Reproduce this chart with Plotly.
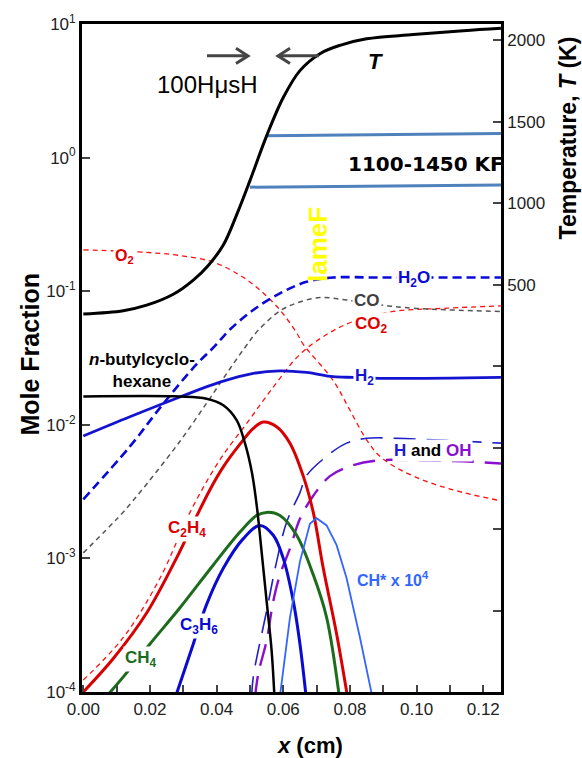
import plotly.graph_objects as go

# ---------------- data ----------------
T_x = [0.0, 0.012, 0.019, 0.027, 0.033, 0.0375, 0.042, 0.046, 0.050, 0.055, 0.060, 0.065, 0.071, 0.077, 0.085, 0.099, 0.114, 0.1253]
T_K = [322, 342, 376, 443, 530, 620, 745, 930, 1140, 1415, 1650, 1815, 1919, 1970, 2010, 2036, 2060, 2075]

band_up_x = [0.0551, 0.1253]
band_up_T = [1415, 1429]
band_lo_x = [0.0500, 0.1253]
band_lo_T = [1100, 1113]

O2_x = [0.0, 0.019, 0.029, 0.039, 0.047, 0.053, 0.059, 0.064, 0.066, 0.075, 0.080, 0.085, 0.089, 0.095, 0.104, 0.114, 0.1253]
O2_y = [0.204, 0.195, 0.185, 0.165, 0.1315, 0.1019, 0.0724, 0.0488, 0.0400, 0.0214, 0.01285, 0.00771, 0.00581, 0.00462, 0.00369, 0.00311, 0.00270]

H2O_x = [0.0, 0.014, 0.024, 0.034, 0.039, 0.044, 0.051, 0.059, 0.067, 0.075, 0.089, 0.1253]
H2O_y = [0.00277, 0.00689, 0.01439, 0.02844, 0.03776, 0.05164, 0.0724, 0.0964, 0.1175, 0.1265, 0.1265, 0.1265]

CO_x = [0.0, 0.008, 0.0119, 0.0191, 0.029, 0.0371, 0.0431, 0.0485, 0.0524, 0.059, 0.0641, 0.071, 0.079, 0.089, 0.099, 0.1253]
CO_y = [0.00110, 0.001746, 0.00221, 0.003626, 0.00753, 0.01464, 0.02438, 0.03793, 0.0507, 0.0713, 0.0817, 0.0897, 0.0859, 0.0789, 0.0746, 0.0705]

CO2_x = [0.0, 0.012, 0.023, 0.032, 0.041, 0.049, 0.057, 0.065, 0.073, 0.081, 0.093, 0.109, 0.1253]
CO2_y = [0.000123, 0.000256, 0.000711, 0.00221, 0.00548, 0.01023, 0.01914, 0.0337, 0.0474, 0.0594, 0.0705, 0.0746, 0.0776]

H2_x = [0.0, 0.014, 0.029, 0.041, 0.051, 0.059, 0.067, 0.075, 0.081, 0.089, 0.1253]
H2_y = [0.00824, 0.01148, 0.01614, 0.02084, 0.02427, 0.02535, 0.02466, 0.02291, 0.02265, 0.02228, 0.02265]

fuel_x = [0.0, 0.029, 0.037, 0.042, 0.046, 0.0485, 0.0506, 0.0521, 0.0535, 0.055, 0.0565, 0.0574]
fuel_y = [0.01629, 0.01629, 0.01567, 0.0140, 0.01084, 0.00729, 0.00438, 0.00241, 0.00112, 0.000479, 0.000204, 0.0000873]

C2H4_x = [0.0, 0.009, 0.019, 0.028, 0.034, 0.038, 0.042, 0.047, 0.051, 0.054, 0.058, 0.062, 0.066, 0.069, 0.072, 0.076, 0.0795]
C2H4_y = [0.000100, 0.000178, 0.000390, 0.00101, 0.00207, 0.00327, 0.00484, 0.00716, 0.0094, 0.0105, 0.00968, 0.00729, 0.00413, 0.00221, 0.000843, 0.000272, 0.000085]

CH4_x = [0.0065, 0.012, 0.020, 0.029, 0.039, 0.047, 0.052, 0.055, 0.059, 0.064, 0.069, 0.073, 0.077]
CH4_y = [0.000090, 0.0001297, 0.000229, 0.000427, 0.000893, 0.001574, 0.002094, 0.00221, 0.002094, 0.00149, 0.000753, 0.000361, 0.000085]

C3H6_x = [0.0272, 0.033, 0.037, 0.042, 0.048, 0.053, 0.057, 0.060, 0.063, 0.065, 0.067]
C3H6_y = [0.000085, 0.000229, 0.000453, 0.000843, 0.001406, 0.001766, 0.00149, 0.00100, 0.000479, 0.000229, 0.000085]

CHs_x = [0.0588, 0.062, 0.065, 0.068, 0.070, 0.073, 0.076, 0.079, 0.083, 0.0868]
CHs_y = [0.000085, 0.000361, 0.000946, 0.001816, 0.00200, 0.001766, 0.001256, 0.000711, 0.000256, 0.000090]

H_x = [0.0505, 0.051, 0.055, 0.058, 0.061, 0.065, 0.0669, 0.073, 0.079, 0.085, 0.094, 0.109, 0.1253]
H_y = [0.000090, 0.0001297, 0.000404, 0.000946, 0.001866, 0.00311, 0.00413, 0.00581, 0.00729, 0.00792, 0.00792, 0.00764, 0.00729]

OH_x = [0.0515, 0.0525, 0.055, 0.057, 0.059, 0.062, 0.065, 0.069, 0.074, 0.080, 0.089, 0.099, 0.114, 0.1253]
OH_y = [0.000090, 0.0001374, 0.000242, 0.000479, 0.000753, 0.001186, 0.001977, 0.002944, 0.00413, 0.0049, 0.00543, 0.00543, 0.00533, 0.00513]

x_ticks = [0.00, 0.01, 0.02, 0.03, 0.04, 0.05, 0.06, 0.07, 0.08, 0.09, 0.10, 0.11, 0.12]
x_ticktext = ["0.00", "", "0.02", "", "0.04", "", "0.06", "", "0.08", "", "0.10", "", "0.12"]
y_ticks = [1e-4, 1e-3, 1e-2, 1e-1, 1, 10]
y_ticktext = ["10<sup>-4</sup>", "10<sup>-3</sup>", "10<sup>-2</sup>", "10<sup>-1</sup>", "10<sup>0</sup>", "10<sup>1</sup>"]
T_ticks = [-1500, -1000, -500, 0, 500, 1000, 1500, 2000]
T_ticktext = ["", "", "", "", "500", "1000", "1500", "2000"]

# ---------------- figure ----------------
W, H = 582, 758
ML, MR, MT, MB = 82, 81, 15, 66
PW, PH = W - ML - MR, H - MT - MB
FONT = "Liberation Sans, Arial, sans-serif"


def xp(px):
    return (px - ML) / PW


def yp(py):
    return (H - MB - py) / PH


fig = go.Figure()


def add(x, y, color, width, dash="solid", axis="y", shape="spline"):
    fig.add_trace(go.Scatter(
        x=x, y=y, mode="lines", yaxis=axis, showlegend=False, hoverinfo="skip",
        line=dict(color=color, width=width, dash=dash, shape=shape,
                  smoothing=1.0 if shape == "spline" else None)))


add(O2_x, O2_y, "#ff1010", 1.3, "5px,4px")
add(CO2_x, CO2_y, "#ff1010", 1.3, "5px,4px")
add(CO_x, CO_y, "#555555", 1.5, "5px,4px")
add(H2O_x, H2O_y, "#0a0ad8", 2.6, "9px,5px")
add(H_x, H_y, "#2020c8", 1.6, "22px,11px")
add(OH_x, OH_y, "#8a10d0", 2.4, "22px,11px")
add(H2_x, H2_y, "#1414d0", 2.8)
add(C2H4_x, C2H4_y, "#d80000", 3.0)
add(CH4_x, CH4_y, "#1d6b1d", 3.0)
add(C3H6_x, C3H6_y, "#0a0ad0", 3.0)
add(CHs_x, CHs_y, "#3366ff", 1.8, shape="linear")
add(fuel_x, fuel_y, "#000000", 2.5)
add(band_up_x, band_up_T, "#4f81bd", 3.0, axis="y2", shape="linear")
add(band_lo_x, band_lo_T, "#4f81bd", 3.0, axis="y2", shape="linear")
add(T_x, T_K, "#000000", 3.0, axis="y2")

ann = []


def label(text, px, py, size, color, xanchor="center", bg=None, angle=0, family=FONT):
    ann.append(dict(text=text, x=xp(px), y=yp(py), xref="paper", yref="paper",
                    xanchor=xanchor, yanchor="middle", showarrow=False, textangle=angle,
                    font=dict(family=family, size=size, color=color),
                    bgcolor=bg, borderpad=1))


label("<b>O<sub>2</sub></b>", 124, 251, 16, "#e00000", bg="white")
label("<b>H<sub>2</sub>O</b>", 414, 273, 17, "#0a0ad8", bg="white")
label("<b>CO</b>", 367, 295, 17, "#404040", bg="white")
label("<b>CO<sub>2</sub></b>", 371, 320, 17, "#e00000", bg="white")
label("<b><i>n</i>-butylcyclo-<br>hexane</b>", 87, 366, 17, "#000000", xanchor="left")
label("<b>H<sub>2</sub></b>", 364, 373, 17, "#1414d0", bg="white")
label("<b><span style='color:#1a1ad0'>H</span> and <span style='color:#8a10d0'>OH</span></b>",
      432, 447, 17, "#000000", bg="white")
label("<b>C<sub>2</sub>H<sub>4</sub></b>", 187, 527, 17, "#d80000", bg="white")
label("<b>C<sub>3</sub>H<sub>6</sub></b>", 199, 625, 17, "#0a0ad0", bg="white")
label("<b>CH<sub>4</sub></b>", 141, 659, 17, "#1d6b1d", bg="white")
label("<b>CH* x 10<sup>4</sup></b>", 393, 577, 16, "#3366ff")
label("<b><i>T</i></b>", 375, 53, 22, "#000000")
label("100HμsH", 155, 76, 24, "#000000", xanchor="left")
label("<b>1100-1450 KF</b>", 346, 157, 20, "#000000", xanchor="left", family="DejaVu Sans, sans-serif")
label("<b>lameF</b>", 318, 239, 26, "#ffff00", angle=-90)
# axis titles
label("<b>Mole Fraction</b>", 30, 350, 25, "#000000", angle=-90)
label("<b>Temperature, <i>T</i> (K)</b>", 568, 131, 23, "#000000", angle=-90)
label("<b><i>x</i> (cm)</b>", 310, 746, 22, "#000000")

# arrows (decoration)
shapes = []
ac = "#454545"
shapes.append(dict(type="line", xref="paper", yref="paper", x0=xp(207), y0=yp(47.3), x1=xp(247), y1=yp(47.3),
                   line=dict(color=ac, width=3)))
shapes.append(dict(type="path", xref="paper", yref="paper",
                   path=f"M {xp(236)} {yp(39.5)} L {xp(248)} {yp(47.3)} L {xp(236)} {yp(55)}",
                   line=dict(color=ac, width=3)))
shapes.append(dict(type="line", xref="paper", yref="paper", x0=xp(279), y0=yp(47.3), x1=xp(319), y1=yp(47.3),
                   line=dict(color=ac, width=3)))
shapes.append(dict(type="path", xref="paper", yref="paper",
                   path=f"M {xp(290)} {yp(39.5)} L {xp(278)} {yp(47.3)} L {xp(290)} {yp(55)}",
                   line=dict(color=ac, width=3)))

tickfont = dict(family=FONT, size=17, color="#222222")
x0 = -1.3 / 3333.0
fig.update_layout(
    width=W, height=H, margin=dict(l=ML, r=MR, t=MT, b=MB),
    plot_bgcolor="white", paper_bgcolor="white",
    annotations=ann, shapes=shapes,
    xaxis=dict(range=[x0, x0 + PW / 3333.0], tickvals=x_ticks, ticktext=x_ticktext,
               ticks="inside", ticklen=7, tickwidth=1.5, tickcolor="#444444",
               showline=True, linewidth=2.8, linecolor="black", mirror=True,
               showgrid=False, zeroline=False, tickfont=tickfont),
    yaxis=dict(type="log", range=[-4, 1], tickvals=y_ticks, ticktext=y_ticktext,
               ticks="inside", ticklen=8, tickwidth=1.5, tickcolor="#444444",
               showline=True, linewidth=2.8, linecolor="black",
               showgrid=False, zeroline=False, tickfont=tickfont),
    yaxis2=dict(overlaying="y", side="right", range=[-1997, 2101], tickvals=T_ticks, ticktext=T_ticktext,
                ticks="inside", ticklen=8, tickwidth=1.5, tickcolor="#444444",
                showline=True, linewidth=2.8, linecolor="black",
                showgrid=False, zeroline=False, tickfont=tickfont),
)

fig.write_html("out.html")
